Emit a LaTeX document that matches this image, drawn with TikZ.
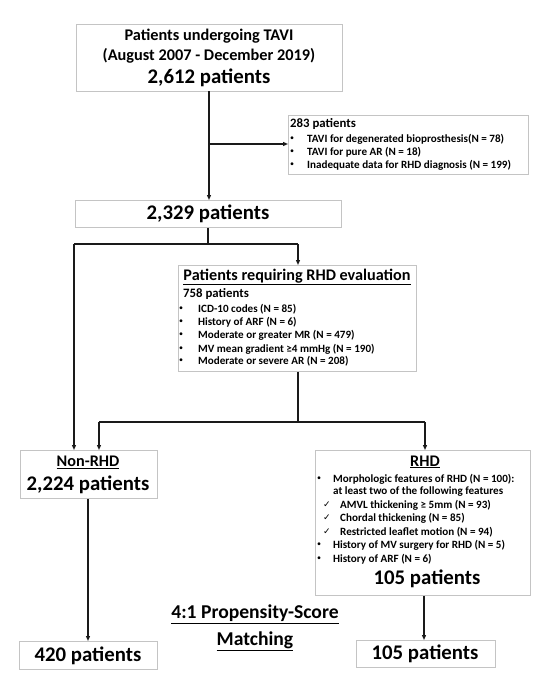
\documentclass[tikz,border=0pt]{standalone}
\usepackage{fontspec}
\setmainfont{Carlito}
\newfontfamily\djv{DejaVu Sans}
\usetikzlibrary{arrows.meta}
\definecolor{boxgray}{HTML}{C4C4C4}
\definecolor{linec}{HTML}{1A1A1A}
\begin{document}
\begin{tikzpicture}[x=1pt,y=-1pt,
  box/.style={draw=boxgray, line width=0.9pt, fill=white, inner sep=0pt, anchor=north west},
  conn/.style={draw=linec, line width=1.2pt},
  arr/.style={conn, -{Triangle[length=5pt,width=4pt]}},
  big/.style={inner sep=0pt, font=\bfseries\fontsize{20.8}{24}\selectfont},
  head/.style={inner sep=0pt, font=\bfseries\fontsize{16.3}{19}\selectfont},
  uhead/.style={inner sep=0pt, font=\bfseries\fontsize{16.2}{19}\selectfont},
  sub/.style={inner sep=0pt, font=\bfseries\fontsize{12.8}{15}\selectfont, anchor=west},
  item/.style={inner sep=0pt, font=\bfseries\fontsize{11.1}{13}\selectfont, anchor=west},
  bul/.style={inner sep=0pt, font=\fontsize{8}{10}\selectfont},
  chk/.style={inner sep=0pt, font=\djv\fontsize{9}{11}\selectfont},
]
\useasboundingbox (0,0) rectangle (556,683);

% boxes
\node[box, minimum width=266, minimum height=67] (b1) at (76,24) {};
\node[box, minimum width=240, minimum height=59] (b283) at (288,115) {};
\node[box, minimum width=266, minimum height=27] (b2329) at (75,200) {};
\node[box, minimum width=238, minimum height=106] (eval) at (178,265) {};
\node[box, minimum width=137, minimum height=48] (nonrhd) at (20,450) {};
\node[box, minimum width=215, minimum height=145] (rhd) at (315,450) {};
\node[box, minimum width=138, minimum height=28] (b420) at (19,641) {};
\node[box, minimum width=139, minimum height=27] (b105) at (356,640) {};

% box 1 text
\node[head] (t1a) at (209,36) {Patients undergoing TAVI};
\node[head] (t1b) at (209,56) {(August 2007 - December 2019)};
\node[big] (t1c) at (209,78) {2,612 patients};

% 283 box
\node[sub] (t283) at (290,124) {283 patients};
\foreach \yy/\tx [count=\i] in {139/{TAVI for degenerated bioprosthesis(N = 78)},152/{TAVI for pure AR (N = 18)},165/{Inadequate data for RHD diagnosis (N = 199)}}{
  \node[bul] (e283b\i) at (292,\yy) {•};
  \node[item] (e283t\i) at (307,\yy) {\tx};
}

% 2329
\node[big] (t2329) at (208,214) {2,329 patients};

% eval
\node[uhead] (tev) at (297,277) {\underline{Patients requiring RHD evaluation}};
\node[sub] (t758) at (183,294) {758 patients};
\foreach \yy/\tx [count=\i] in {309/{ICD-10 codes (N = 85)},322/{History of ARF (N = 6)},335/{Moderate or greater MR (N = 479)},349/{MV mean gradient ≥4 mmHg (N = 190)},361/{Moderate or severe AR (N = 208)}}{
  \node[bul] (evb\i) at (181,\yy) {•};
  \node[item] (evt\i) at (198,\yy) {\tx};
}

% non-RHD
\node[uhead] (tnr) at (88,462) {\underline{Non-RHD}};
\node[big] (t2224) at (88,485) {2,224 patients};

% RHD
\node[uhead] (trhd) at (425,462) {\underline{RHD}};
\node[bul] (rb1) at (319,479) {•};
\node[item] (rt1) at (333,479) {Morphologic features of RHD (N = 100):};
\node[item] (rt1b) at (333,492) {at least two of the following features};
\foreach \yy/\tx [count=\i] in {505/{AMVL thickening ≥ 5mm (N = 93)},518/{Chordal thickening (N = 85)},532/{Restricted leaflet motion (N = 94)}}{
  \node[chk] (rc\i) at (327,\yy) {✓};
  \node[item] (rct\i) at (340,\yy) {\tx};
}
\node[bul] (rb2) at (319,545) {•};
\node[item] (rt2) at (333,545) {History of MV surgery for RHD (N = 5)};
\node[bul] (rb3) at (319,559) {•};
\node[item] (rt3) at (333,559) {History of ARF (N = 6)};
\node[big] (t105a) at (427,579) {105 patients};

% bottom
\node[big] (t420) at (88,656) {420 patients};
\node[big] (t105b) at (425,654) {105 patients};
\node[inner sep=0pt, align=center, font=\bfseries\fontsize{19.6}{27}\selectfont] (tpsm) at (255,628) {\underline{4:1 Propensity-Score}\\\underline{Matching}};

% junctions
\coordinate (j1) at (209,144);
\coordinate (j2) at (208,244);
\coordinate (j2l) at (74,244);
\coordinate (j2r) at (298,244);
\coordinate (j3) at (298,422);
\coordinate (j3l) at (99,422);
\coordinate (j3r) at (425,422);

% connectors
\draw[arr] (209,91) coordinate (b1s) -- (b1s |- b2329.north);
\draw[arr] (j1) -- (b283.west |- j1);
\draw[conn] (b2329.south -| j2) -- (j2);
\draw[conn] (j2l) -- (j2r);
\draw[arr] (j2l) -- (j2l |- nonrhd.north);
\draw[arr] (j2r) -- (j2r |- eval.north);
\draw[conn] (eval.south -| j3) -- (j3);
\draw[conn] (j3l) -- (j3r);
\draw[arr] (j3l) -- (j3l |- nonrhd.north);
\draw[arr] (j3r) -- (j3r |- rhd.north);
\draw[arr] (nonrhd.south -| 88,0) -- (88,0 |- b420.north);
\draw[arr] (rhd.south -| 424,0) -- (424,0 |- b105.north);
\end{tikzpicture}
\end{document}
